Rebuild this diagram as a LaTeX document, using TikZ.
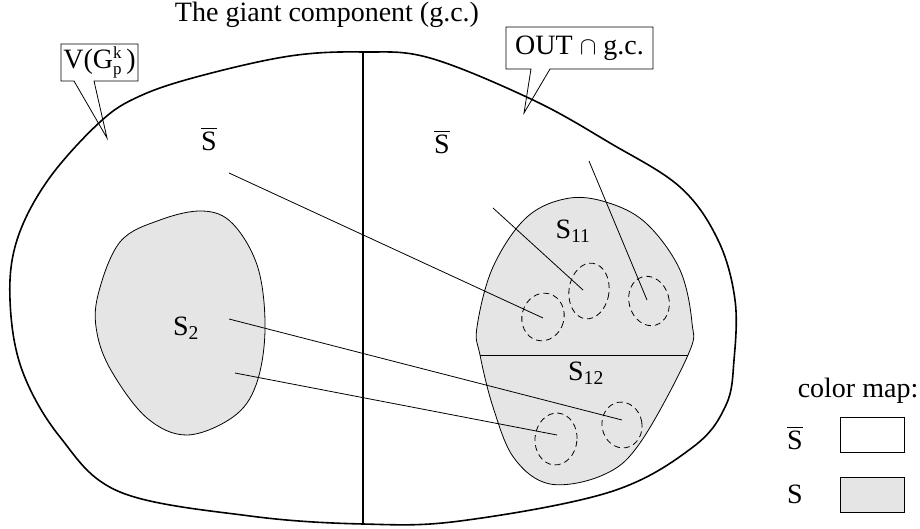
\documentclass[tikz,border=0pt]{standalone}
\usepackage{amsmath}
\usepackage{fontspec}
\setmainfont{Liberation Serif}
\newcommand{\smallidx}{\fontsize{17}{17}\selectfont}
\begin{document}
\begin{tikzpicture}[x=1pt,y=-1pt,
  every node/.style={font=\fontsize{28}{32}\selectfont, inner sep=0pt},
  thick line/.style={line width=1.6pt},
  thin line/.style={line width=0.8pt},
  setfill/.style={fill=gray!20},
  subset/.style={line width=0.8pt, dash pattern=on 6pt off 4pt},
  mapbox/.style={draw, line width=0.8pt, minimum width=64pt, minimum height=35pt}]
\useasboundingbox (0,0) rectangle (920,529);

% title
\node (title) at (327,15) {The giant component (g.c.)};

% outer blob
\draw[thick line] plot[smooth cycle, tension=0.6] coordinates {
 (363,52) (430,58) (533,100) (610,143) (680,187) (718,240) (735,300) (734,360)
 (726,405) (693,447) (610,492) (460,521) (363,524) (250,516) (120,492)
 (60,437) (22,370) (10,300) (17,240) (48,180) (100,122) (140,96) (200,76) (290,56)};
\draw[thick line] (363,52) -- (363,524);

% S2 blob
\draw[thin line, setfill] plot[smooth cycle, tension=0.6] coordinates {
 (203,211) (233,224) (258,268) (265,330) (256,385) (233,417) (187,435)
 (147,418) (112,372) (97,333) (98,295) (120,242) (160,220)};

% S1 blob
\def\sblob{plot[smooth cycle, tension=0.6] coordinates {
 (570,198) (612,204) (648,225) (680,270) (692,323) (688,355) (640,443)
 (603,475) (550,484) (514,458) (493,407) (480,355) (477,327) (493,267) (527,217)}}
\draw[thin line, setfill] \sblob;
\begin{scope}
\clip \sblob;
\draw[thin line] (460,355) -- (720,355);
\end{scope}

% dashed subsets
\draw[subset, rotate around={-15:(543,317)}] (543,317) ellipse [x radius=21, y radius=24];
\draw[subset, rotate around={-8:(589,291)}] (589,291) ellipse [x radius=20, y radius=28];
\draw[subset, rotate around={15:(649,301)}] (649,301) ellipse [x radius=20, y radius=25];
\draw[subset, rotate around={-5:(556,439)}] (556,439) ellipse [x radius=21, y radius=26];
\draw[subset, rotate around={10:(622,425)}] (622,425) ellipse [x radius=20, y radius=23];

% labels
\node (sbl) at (209,139) {$\overline{\hbox{S}}$};
\node (sbr) at (442,142) {$\overline{\hbox{S}}$};
\node (s2) at (186,328) {S\textsubscript{2}};
\node (s11) at (573,231) {S\textsubscript{11}};
\node (s12) at (586,373) {S\textsubscript{12}};

% connectors
\coordinate (a1) at (229,173); \coordinate (b1) at (543,318);
\coordinate (a2) at (493,208); \coordinate (b2) at (583,290);
\coordinate (a3) at (589,161); \coordinate (b3) at (647,300);
\coordinate (a4) at (229,319); \coordinate (b4) at (622,420);
\coordinate (a5) at (235,373); \coordinate (b5) at (557,435);
\foreach \i in {1,...,5} \draw[thin line] (a\i) -- (b\i);

% callouts
\node (vg) at (99.5,62) {V(G\rlap{\raisebox{10pt}{\smallidx k}}\raisebox{-6pt}{\smallidx p}\,)};
\draw[thin line] (61,44) -- (138,44) -- (138,81) -- (94,81) -- (107,138) -- (74,81) -- (61,81) -- cycle;
\node (out) at (579.5,48) {OUT $\cap$ g.c.};
\draw[thin line] (506,27) -- (653,27) -- (653,69) -- (550,69) -- (524,113) -- (531,69) -- (506,69) -- cycle;

% colour map
\node (cm) at (858,391) {color map:};
\node[mapbox] (m1) at (872,434.5) {};
\node[mapbox, setfill] (m2) at (872,495) {};
\node (l1) at (795,438) {$\overline{\hbox{S}}$};
\node (l2) at (795,494) {S};
\end{tikzpicture}
\end{document}
